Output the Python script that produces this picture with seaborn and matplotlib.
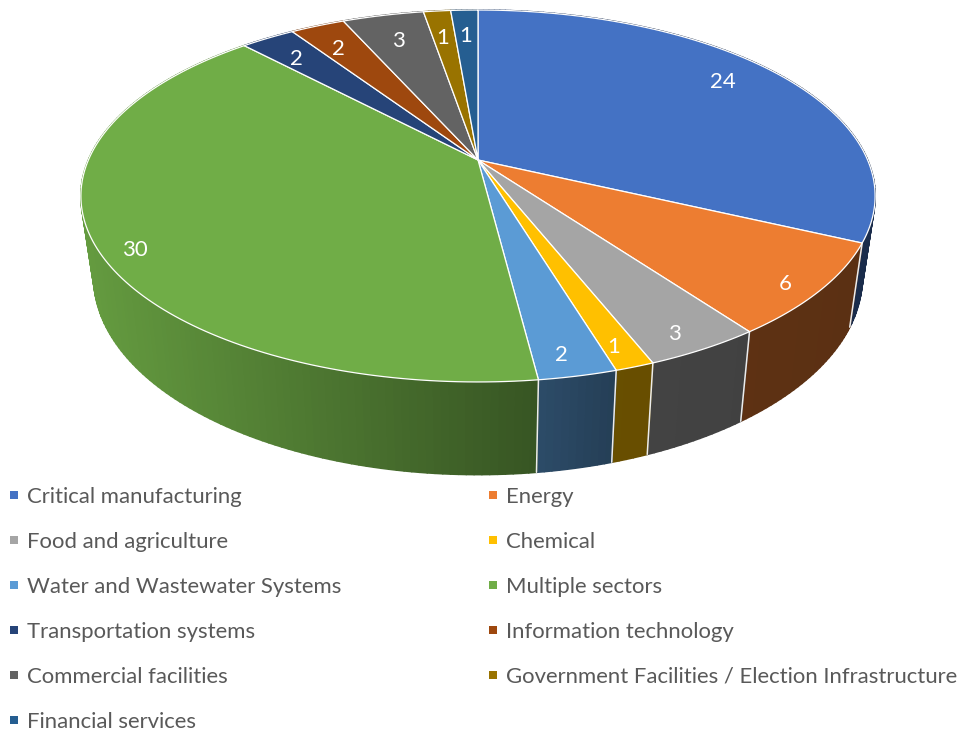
import numpy as np
import matplotlib
matplotlib.use("Agg")
import matplotlib.pyplot as plt
import seaborn as sns
from matplotlib.collections import PolyCollection
from matplotlib.lines import Line2D
from matplotlib.path import Path
from matplotlib.transforms import Affine2D, Transform

sectors = [
    "Critical manufacturing", "Energy", "Food and agriculture", "Chemical",
    "Water and Wastewater Systems", "Multiple sectors", "Transportation systems",
    "Information technology", "Commercial facilities",
    "Government Facilities / Election Infrastructure", "Financial services",
]
incidents = [24, 6, 3, 1, 2, 30, 2, 2, 3, 1, 1]
sector_colors = ["#4472C4", "#ED7D31", "#A5A5A5", "#FFC000", "#5B9BD5", "#70AD47",
                 "#264478", "#9E480E", "#636363", "#997300", "#255E91"]

# Pixel nudges that seat each value label inside its slice.
label_nudges = [(-18, -1), (15, 13), (5, 14), (3, 12), (-1, 13), (-13, 19),
                (4, 7), (3, 8), (5, 9), (1, 10), (0, 9)]

# Camera model of the tilted disc, in figure pixels.
TILT = 0.1935
TOP_RIM = dict(cy=160.0, ax=389.6, ay=179.0)
BOTTOM_RIM = dict(cy=239.0, ax=377.0, ay=190.0)
CX = 478.0

# Wall brightness as a function of horizontal position.
SHADE_X = [80, 538, 610, 900]
SHADE_F = [0.90, 0.49, 0.41, 0.38]


def project(u, v, cy, ax, ay):
    w = 1 + TILT * v
    return CX + ax * u / w, cy - ay * v / w


class DiscTransform(Transform):
    """Maps the unit pie circle onto the tilted top face of the disc."""
    input_dims = output_dims = 2
    has_inverse = False
    is_separable = False

    def transform_non_affine(self, values):
        values = np.asarray(values, dtype=float)
        x, y = project(values[:, 0], values[:, 1], **TOP_RIM)
        return np.column_stack([x, y])

    def transform_path_non_affine(self, path):
        scaled = Affine2D().scale(3000).transform_path(path)
        polys = scaled.to_polygons(closed_only=False)
        parts = [Path(self.transform_non_affine(p / 3000)) for p in polys]
        return Path.make_compound_path(*parts)


sns.set_theme(style="white")
plt.rcParams["font.family"] = ["Lato", "DejaVu Sans"]
palette = sns.color_palette(sector_colors)

fig, ax = plt.subplots(figsize=(9.57, 7.31), dpi=100)
fig.subplots_adjust(0, 0, 1, 1)
total = sum(incidents)

wedges, _, autotexts = ax.pie(
    incidents,
    colors=palette,
    startangle=90,
    counterclock=False,
    radius=1,
    autopct=lambda pct: f"{round(pct * total / 100)}",
    pctdistance=0.87,
    wedgeprops=dict(edgecolor="white", linewidth=0.9, zorder=5),
    textprops=dict(color="white", fontsize=16, zorder=6),
)
ax.set_aspect("auto")
ax.set_xlim(0, 957)
ax.set_ylim(731, 0)

disc = DiscTransform() + ax.transData
for wedge in wedges:
    wedge.set_transform(disc)
for label, (dx, dy) in zip(autotexts, label_nudges):
    label.set_transform(disc + Affine2D().translate(dx, -dy))

# Side wall of the disc, split into narrow strips so it can be shaded across.
edges = 2 * np.pi * np.concatenate([[0], np.cumsum(incidents)]) / total
quads, quad_colors, depth = [], [], []
for start, stop, colour in zip(edges[:-1], edges[1:], palette):
    steps = max(int((stop - start) * 60), 2)
    theta = np.linspace(start, stop, steps + 1)
    u, v = np.sin(theta), np.cos(theta)
    xt, yt = project(u, v, **TOP_RIM)
    xb, yb = project(u, v, **BOTTOM_RIM)
    for i in range(steps):
        quads.append([(xt[i], yt[i]), (xt[i + 1], yt[i + 1]),
                      (xb[i + 1], yb[i + 1]), (xb[i], yb[i])])
        f = np.interp((xt[i] + xt[i + 1]) / 2, SHADE_X, SHADE_F)
        quad_colors.append(tuple(np.array(colour) * f))
        depth.append(v[i] + v[i + 1])

order = np.argsort(depth)[::-1]
ax.add_collection(PolyCollection(
    [quads[i] for i in order],
    facecolors=[quad_colors[i] for i in order],
    edgecolors=[quad_colors[i] for i in order],
    linewidths=1.2, zorder=2,
))

# Thin light seams where two sectors meet on the wall.
for theta in edges[:-1]:
    u, v = np.sin(theta), np.cos(theta)
    xt, yt = project(u, v, **TOP_RIM)
    xb, yb = project(u, v, **BOTTOM_RIM)
    ax.plot([xt, xb], [yt, yb], color="#ECECEC", lw=1.1, zorder=3)

handles = [Line2D([], [], linestyle="none", marker="s", markersize=5.3,
                  markeredgewidth=0, color=c, label=s)
           for c, s in zip(palette, sectors)]
fig.legend(
    handles=handles[::2] + handles[1::2],
    ncols=2,
    loc="upper left",
    bbox_to_anchor=(3.0 / 957, 1 - 486.9 / 731),
    frameon=False,
    fontsize=15.9,
    labelcolor="#595959",
    handlelength=1.0,
    handletextpad=0.09,
    labelspacing=1.13,
    columnspacing=6.38,
    borderpad=0,
    borderaxespad=0,
)

fig.savefig("out.png", dpi=100, facecolor="white")
